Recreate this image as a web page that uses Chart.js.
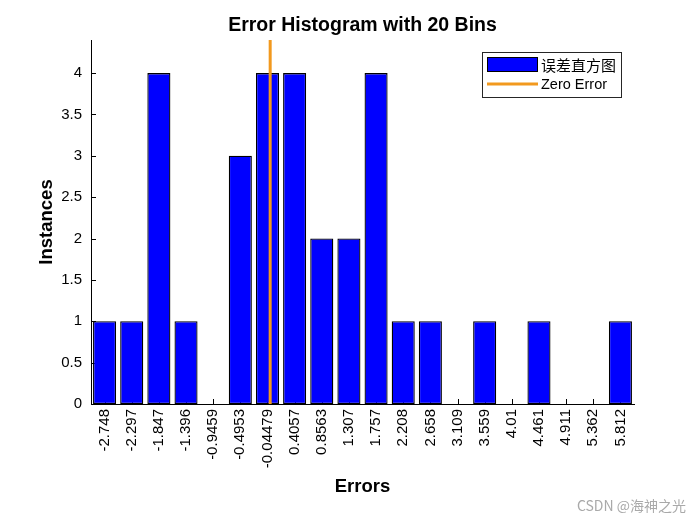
<!DOCTYPE html>
<html><head><meta charset="utf-8">
<script src="https://cdn.jsdelivr.net/npm/chart.js@4/dist/chart.umd.min.js"></script>
<style>html,body{margin:0;padding:0;background:#fff;} canvas{display:block;}</style>
</head><body>
<canvas id="c" width="700" height="525"></canvas>
<script>
// ---- data ----
const binLabels = ['-2.748','-2.297','-1.847','-1.396','-0.9459','-0.4953','-0.04479','0.4057','0.8563','1.307','1.757','2.208','2.658','3.109','3.559','4.01','4.461','4.911','5.362','5.812'];
const instances = [1,1,4,1,0,3,4,4,2,2,4,1,1,0,1,0,1,0,0,1];
const yTicks = [0,0.5,1,1.5,2,2.5,3,3.5,4];
const yMax = 4.4;
const zeroError = 0;
const titleText = 'Error Histogram with 20 Bins';
const xTitle = 'Errors';
const yTitle = 'Instances';
const seriesNames = ['误差直方图', 'Zero Error'];
const watermark = 'CSDN @海神之光';

// ---- derived ----
const centers = binLabels.map(Number);
const binStep = (centers[centers.length-1] - centers[0]) / (centers.length - 1);
const zeroPos = (zeroError - centers[0]) / binStep;
const barPoints = instances.map((v, i) => ({x: i, y: v}));
const zeroLine = [{x: zeroPos, y: 0}, {x: zeroPos, y: yMax}];

const FONT = 'Liberation Sans, Arial, Helvetica, sans-serif';
const BLUE = '#0000FF';
const ORANGE = 'rgb(242,153,30)';

const inwardTicks = {
  id: 'inwardTicks',
  beforeDatasetsDraw(chart) {
    const {ctx, scales: {x, y}, chartArea: a} = chart;
    ctx.save();
    ctx.strokeStyle = '#000';
    ctx.lineWidth = 1;
    ctx.beginPath();
    x.ticks.forEach(t => {
      const px = Math.round(x.getPixelForValue(t.value)) + 0.5;
      ctx.moveTo(px, a.bottom); ctx.lineTo(px, a.bottom - 5);
    });
    y.ticks.forEach(t => {
      const py = Math.round(y.getPixelForValue(t.value)) + 0.5;
      ctx.moveTo(a.left, py); ctx.lineTo(a.left + 5, py);
    });
    ctx.stroke();
    ctx.restore();
  }
};

const customLegend = {
  id: 'customLegend',
  afterDraw(chart) {
    const {ctx, chartArea: a} = chart;
    const right = a.right - 13, top = a.top + 12;
    const w = 139, h = 45;
    const left = right - w;
    ctx.save();
    ctx.fillStyle = '#fff';
    ctx.fillRect(left, top, w, h);
    ctx.strokeStyle = '#262626';
    ctx.lineWidth = 1;
    ctx.strokeRect(Math.round(left) + 0.5, Math.round(top) + 0.5, w, h);
    // bar swatch
    ctx.fillStyle = BLUE;
    ctx.fillRect(left + 5, top + 5, 51, 15);
    ctx.strokeStyle = '#000';
    ctx.strokeRect(left + 5.5, top + 5.5, 50, 14);
    // line swatch
    ctx.strokeStyle = ORANGE;
    ctx.lineWidth = 3;
    ctx.beginPath();
    ctx.moveTo(left + 5, top + 32); ctx.lineTo(left + 56, top + 32);
    ctx.stroke();
    ctx.fillStyle = '#000';
    ctx.textBaseline = 'middle';
    ctx.textAlign = 'left';
    ctx.font = '15px "Noto Sans CJK SC", sans-serif';
    ctx.fillText(chart.data.datasets[0].label, left + 59, top + 13);
    ctx.font = '14.5px ' + FONT;
    ctx.fillText(chart.data.datasets[1].label, left + 59, top + 33);
    ctx.restore();
  }
};

const watermarkPlugin = {
  id: 'watermark',
  afterDraw(chart) {
    const ctx = chart.ctx;
    ctx.save();
    ctx.fillStyle = 'rgba(140,140,140,0.75)';
    ctx.font = '14px "Noto Sans CJK SC", sans-serif';
    ctx.textAlign = 'right';
    ctx.textBaseline = 'middle';
    ctx.fillText(watermark, 686, 506);
    ctx.restore();
  }
};

Chart.defaults.font.family = FONT;
Chart.defaults.color = '#000';

new Chart(document.getElementById('c'), {
  type: 'bar',
  data: {
    datasets: [
      {
        type: 'bar', label: seriesNames[0], data: barPoints,
        backgroundColor: BLUE, borderColor: '#000', borderWidth: 1.3, inflateAmount: 0,
        borderSkipped: false, barPercentage: 0.85, categoryPercentage: 1, order: 2
      },
      {
        type: 'line', label: seriesNames[1], data: zeroLine,
        borderColor: ORANGE, borderWidth: 3, pointRadius: 0, fill: false, order: 1
      }
    ]
  },
  options: {
    responsive: false,
    animation: false,
    devicePixelRatio: 1,
    layout: {padding: {left: 0, right: 66, top: 0, bottom: 0}},
    plugins: {
      legend: {display: false},
      tooltip: {enabled: false},
      title: {
        display: true, text: titleText, color: '#000', fullSize: false,
        font: {size: 19.5, weight: 'bold', family: FONT},
        padding: {top: 14, bottom: 2.6}
      }
    },
    scales: {
      x: {
        type: 'linear', min: -0.5, max: binLabels.length - 0.5, offset: false,
        afterBuildTicks: s => { s.ticks = binLabels.map((_, i) => ({value: i})); },
        afterFit: s => { s.height = 121; },
        ticks: {
          autoSkip: false, minRotation: 90, maxRotation: 90, padding: 5,
          color: '#000', font: {size: 15, family: FONT},
          callback: v => binLabels[v]
        },
        grid: {display: false, drawTicks: false, tickLength: 0},
        border: {display: true, color: '#000', width: 1},
        title: {display: true, text: xTitle, color: '#000',
          font: {size: 18.5, weight: 'bold', family: FONT}, padding: {top: 0, bottom: 27}}
      },
      y: {
        min: 0, max: yMax,
        afterBuildTicks: s => { s.ticks = yTicks.map(v => ({value: v})); },
        afterFit: s => { s.width = 91; },
        ticks: {padding: 9, color: '#000', font: {size: 15, family: FONT}, callback: v => String(v)},
        grid: {display: false, drawTicks: false, tickLength: 0},
        border: {display: true, color: '#000', width: 1},
        title: {display: true, text: yTitle, color: '#000',
          font: {size: 18.5, weight: 'bold', family: FONT}, padding: {top: 36, bottom: 0}}
      }
    }
  },
  plugins: [inwardTicks, customLegend, watermarkPlugin]
});
</script>
</body></html>
